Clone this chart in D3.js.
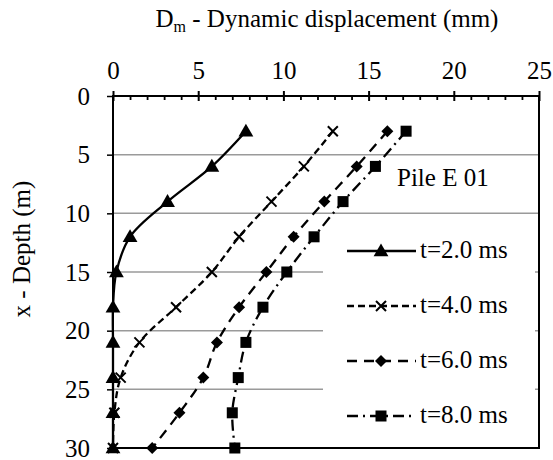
<!DOCTYPE html>
<html>
<head>
<meta charset="utf-8">
<script src="https://cdn.jsdelivr.net/npm/d3@7"></script>
<style>
body{margin:0;background:#fff;}
svg text{font-family:"Liberation Serif","Times New Roman",serif !important;}
</style>
</head>
<body>
<svg id="chart" width="553" height="460"></svg>
<script>
const depths = [3, 6, 9, 12, 15, 18, 21, 24, 27, 30];
const seriesNames = ["t=2.0 ms", "t=4.0 ms", "t=6.0 ms", "t=8.0 ms"];
const t2 = [7.8, 5.8, 3.2, 1.0, 0.2, 0, 0, 0, 0, 0];
const t4 = [12.9, 11.2, 9.3, 7.4, 5.8, 3.7, 1.55, 0.45, 0.08, 0];
const t6 = [16.1, 14.3, 12.4, 10.6, 9.0, 7.4, 6.1, 5.3, 3.9, 2.3];
const t8 = [17.2, 15.4, 13.5, 11.8, 10.2, 8.8, 7.8, 7.35, 7.0, 7.15];
const xTicks = [0, 5, 10, 15, 20, 25];
const yTicks = [0, 5, 10, 15, 20, 25, 30];
const titleText = "Dynamic displacement (mm)";
const yLabel = "x - Depth (m)";
const annotation = "Pile E 01";

const FS = 25;
const svg = d3.select("#chart");
const x = d3.scaleLinear().domain([0, 25]).range([113, 539]);
const y = d3.scaleLinear().domain([0, 30]).range([96, 448]);

// gridlines
svg.append("g").selectAll("line").data(yTicks.filter(d => d > 0 && d < 30)).join("line")
  .attr("x1", x(0)).attr("x2", x(25)).attr("y1", d => y(d)).attr("y2", d => y(d))
  .attr("stroke", "#9a9a9a").attr("stroke-width", 1.5);

// legend background (covers gridlines)
svg.append("rect").attr("x", 323).attr("y", 228).attr("width", 212).attr("height", 214).attr("fill", "#fff");

// frame
svg.append("rect").attr("x", x(0)).attr("y", y(0)).attr("width", x(25) - x(0)).attr("height", y(30) - y(0))
  .attr("fill", "none").attr("stroke", "#000").attr("stroke-width", 2);

// top axis major ticks crossing
const topAxis = d3.axisTop(x).tickValues(xTicks).tickSize(5).tickPadding(12);
const gTop = svg.append("g").attr("transform", `translate(0,${y(0)})`).call(topAxis);
gTop.select(".domain").remove();
gTop.selectAll("line").attr("stroke", "#000").attr("stroke-width", 2).attr("y2", -5).attr("y1", 5);
gTop.selectAll("text").attr("font-size", FS).attr("fill", "#000");
// minor ticks
const minor = d3.range(1, 25).filter(v => v % 5 !== 0);
const gMinor = svg.append("g").attr("transform", `translate(0,${y(0)})`)
  .call(d3.axisBottom(x).tickValues(minor).tickSize(4).tickFormat(""));
gMinor.select(".domain").remove();
gMinor.selectAll("line").attr("stroke", "#000").attr("stroke-width", 1.8);

// left axis
const leftAxis = d3.axisLeft(y).tickValues(yTicks).tickSize(5).tickPadding(18);
const gLeft = svg.append("g").attr("transform", `translate(${x(0)},0)`).call(leftAxis);
gLeft.select(".domain").remove();
gLeft.selectAll("line").attr("stroke", "#000").attr("stroke-width", 1.5).attr("x1", 0).attr("x2", -6);
gLeft.selectAll("text").attr("font-size", FS).attr("fill", "#000");

// title
const title = svg.append("text").attr("x", 327).attr("y", 27).attr("text-anchor", "middle").attr("font-size", FS);
title.append("tspan").text("D");
title.append("tspan").attr("font-size", 16).attr("dy", 5).text("m");
title.append("tspan").attr("dy", -5).text(" - " + titleText);

// y label
svg.append("text").attr("transform", "translate(30,249) rotate(-90)").attr("text-anchor", "middle")
  .attr("font-size", FS).text(yLabel);

// annotation
svg.append("text").attr("x", 397).attr("y", 186).attr("font-size", FS).text(annotation);

const dashes = ["none", "7,4", "10,7", "11,5,2,5"];
const allSeries = [t2, t4, t6, t8];
const line = d3.line().x(d => x(d[0])).y(d => y(d[1])).curve(d3.curveCatmullRom.alpha(0.5));

function marker(g, type, cx, cy) {
  if (type === 0) {
    g.append("path").attr("d", d3.symbol(d3.symbolTriangle, 95)()).attr("transform", `translate(${cx},${cy + 1})`).attr("fill", "#000");
  } else if (type === 1) {
    g.append("path").attr("d", "M-5,-5L5,5M-5,5L5,-5").attr("transform", `translate(${cx},${cy})`)
      .attr("stroke", "#000").attr("stroke-width", 2).attr("fill", "none");
  } else if (type === 2) {
    g.append("path").attr("d", "M0,-6L6,0L0,6L-6,0Z").attr("transform", `translate(${cx},${cy})`).attr("fill", "#000");
  } else {
    g.append("rect").attr("x", cx - 5.5).attr("y", cy - 5.5).attr("width", 11).attr("height", 11).attr("fill", "#000");
  }
}

allSeries.forEach((vals, i) => {
  const pts = vals.map((v, j) => [v, depths[j]]);
  const g = svg.append("g");
  g.append("path").datum(pts).attr("d", line).attr("fill", "none").attr("stroke", "#000")
    .attr("stroke-width", 2.3).attr("stroke-dasharray", dashes[i]);
  pts.forEach(p => marker(g, i, x(p[0]), y(p[1])));
});

// legend
const legRows = [251, 306, 361, 416];
seriesNames.forEach((name, i) => {
  const g = svg.append("g");
  const cy = legRows[i];
  g.append("line").attr("x1", 347).attr("x2", 416).attr("y1", cy).attr("y2", cy)
    .attr("stroke", "#000").attr("stroke-width", 2.3).attr("stroke-dasharray", dashes[i]);
  marker(g, i, 381, cy);
  g.append("text").attr("x", 420).attr("y", cy + 7).attr("font-size", FS).text(name);
});
</script>
</body>
</html>
